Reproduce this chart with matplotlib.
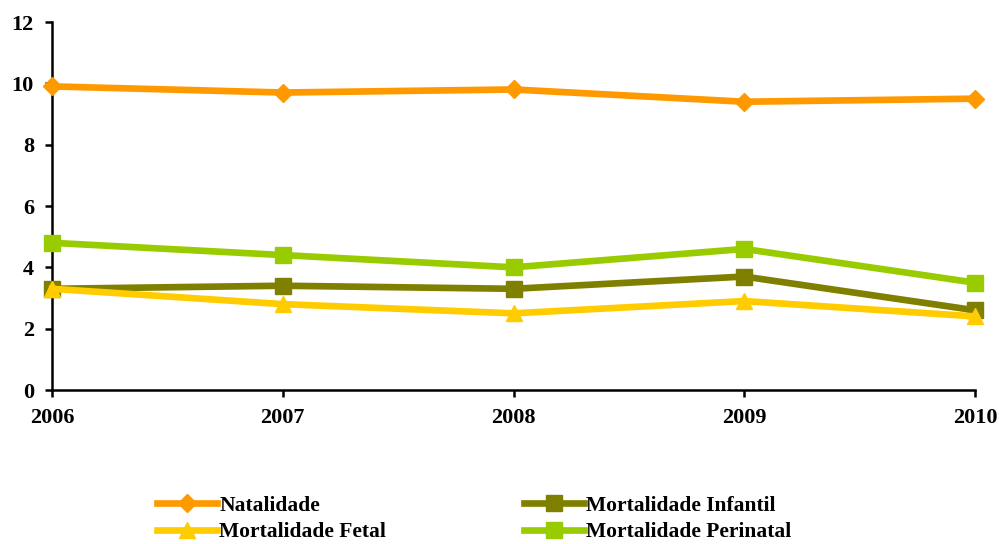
import matplotlib
matplotlib.use("Agg")
import matplotlib.pyplot as plt

years = [2006, 2007, 2008, 2009, 2010]
natalidade = [9.9, 9.7, 9.8, 9.4, 9.5]
mort_infantil = [3.3, 3.4, 3.3, 3.7, 2.6]
mort_fetal = [3.3, 2.8, 2.5, 2.9, 2.4]
mort_perinatal = [4.8, 4.4, 4.0, 4.6, 3.5]
yticks = [0, 2, 4, 6, 8, 10, 12]

plt.rcParams['font.family'] = ['Liberation Serif', 'DejaVu Serif']
plt.rcParams['font.weight'] = 'bold'

fig = plt.figure(figsize=(9.99, 5.44), dpi=100)
ax = fig.add_axes([52/999, 1-390/544, (975-52)/999, (390-22)/544])

lw = 4.8
l1, = ax.plot(years, natalidade, color='#FF9900', lw=lw, marker='D', ms=9, mec='#FF9900', label='Natalidade', zorder=3)
l2, = ax.plot(years, mort_infantil, color='#808000', lw=lw, marker='s', ms=11, mec='#808000', label='Mortalidade Infantil', zorder=3)
l3, = ax.plot(years, mort_fetal, color='#FFCC00', lw=lw, marker='^', ms=12, mec='#FFCC00', label='Mortalidade Fetal', zorder=3)
l4, = ax.plot(years, mort_perinatal, color='#99CC00', lw=lw, marker='s', ms=11, mec='#99CC00', label='Mortalidade Perinatal', zorder=3)

ax.set_xlim(2006, 2010)
ax.set_ylim(0, 12)
ax.set_yticks(yticks)
ax.set_xticks(years)
ax.set_xticklabels([str(y) for y in years], fontsize=16, fontweight='bold')
ax.set_yticklabels([str(v) for v in yticks], fontsize=16, fontweight='bold')
for s in ['top', 'right']:
    ax.spines[s].set_visible(False)
for s in ['left', 'bottom']:
    ax.spines[s].set_linewidth(1.8)
ax.tick_params(direction='out', length=5, width=1.8, pad=8)
for line in ax.lines:
    line.set_clip_on(False)

fig.legend(handles=[l1, l3, l2, l4], ncol=2, loc='center left',
           bbox_to_anchor=(146/999, 1-519/544), frameon=False,
           prop={'family': 'Liberation Serif', 'weight': 'bold', 'size': 15.5},
           handlelength=2.8, handletextpad=0.1, columnspacing=6.4,
           labelspacing=0.3, borderpad=0)

fig.savefig('out.png', dpi=100)
